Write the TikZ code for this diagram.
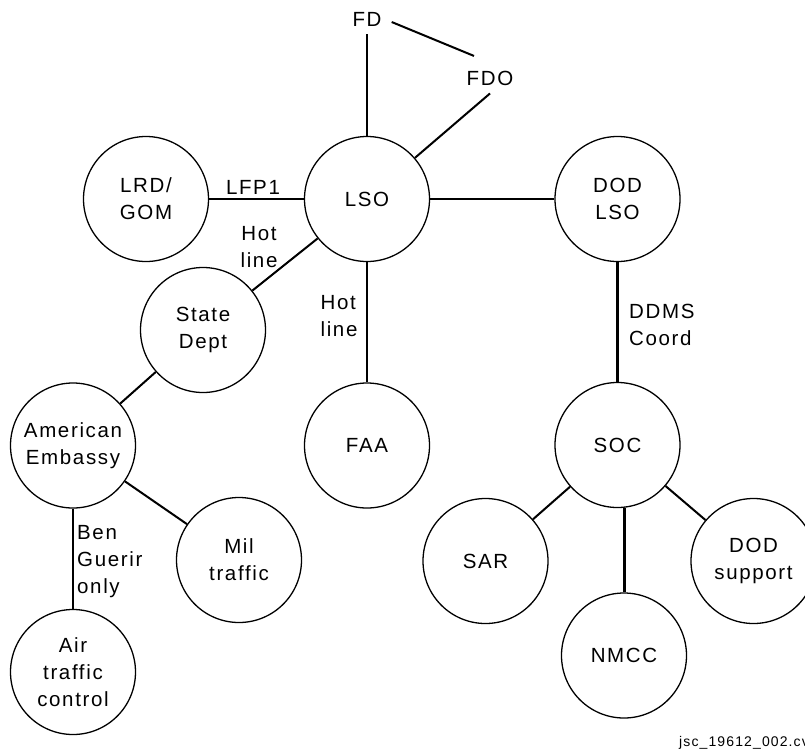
\documentclass[tikz,border=0pt]{standalone}
\usepackage{fontspec}
\setmainfont{Liberation Sans}[LetterSpace=8]
\begin{document}
\begin{tikzpicture}[x=1pt,y=-1pt,
  circ/.style={circle,draw,line width=1.3pt,minimum size=125pt,inner sep=0pt,align=center,font=\fontsize{20.5}{27}\selectfont},
  lbl/.style={inner sep=0pt,font=\fontsize{20.5}{27}\selectfont},
  conn/.style={line width=2pt},
  heavyconn/.style={line width=3pt}]
\useasboundingbox (0,0) rectangle (805,753);
\clip (0,0) rectangle (805,753);
% nodes
\node[circ] (LSO) at (367,199) {LSO};
\node[circ] (LRD) at (146,199) {LRD/\\GOM};
\node[circ] (DODLSO) at (617.5,199) {DOD\\LSO};
\node[circ] (State) at (203,330) {State\\Dept};
\node[circ] (Emb) at (73,445.5) {American\\Embassy};
\node[circ] (Mil) at (239,560) {Mil\\traffic};
\node[circ] (Air) at (73,672) {Air\\traffic\\control};
\node[circ] (FAA) at (367,445.5) {FAA};
\node[circ] (SOC) at (617.5,445) {SOC};
\node[circ] (SAR) at (485.5,561) {SAR};
\node[circ] (NMCC) at (624,655.5) {NMCC};
\node[circ] (DODsup) at (753.5,561) {DOD\\support};
\node[lbl,inner sep=8pt] (FD) at (367,19) {FD};
\node[lbl,inner sep=8pt] (FDO) at (490,78) {FDO};
% labels
\node[lbl] (lfp) at (253,187) {LFP1};
\node[lbl,align=center] (hot1) at (259,247.5) {Hot\\line};
\node[lbl,align=left] (hot2) at (339,316.5) {Hot\\line};
\node[lbl,align=left,anchor=west] (ddms) at (629,324.5) {DDMS\\Coord};
\node[lbl,align=left,anchor=west] (ben) at (77,561.5) {Ben\\Guerir\\only};
\node[inner sep=0pt,anchor=west,font=\fontsize{14}{16}\selectfont] (foot) at (679,743) {jsc\_19612\_002.cv};
% connectors
\draw[conn] (FD) -- (LSO);
\draw[conn] ([shift={(2,3)}]FD.east) -- ([shift={(-16,-6.6)}]FDO.north);
\draw[conn] (FDO.south) -- (LSO);
\draw[conn] (LRD) -- (LSO);
\draw[conn] (LSO) -- (DODLSO);
\draw[conn] (State) -- (LSO);
\draw[conn] (LSO) -- (FAA);
\draw[conn] (State) -- (Emb);
\draw[conn] (Emb) -- (Mil);
\draw[conn] (Emb) -- (Air);
\draw[heavyconn] (DODLSO) -- (SOC);
\draw[conn] (SOC) -- (SAR);
\draw[conn] (SOC) -- (DODsup);
\draw[heavyconn] (NMCC.north) -- (NMCC.north |- SOC.south);
\end{tikzpicture}
\end{document}
